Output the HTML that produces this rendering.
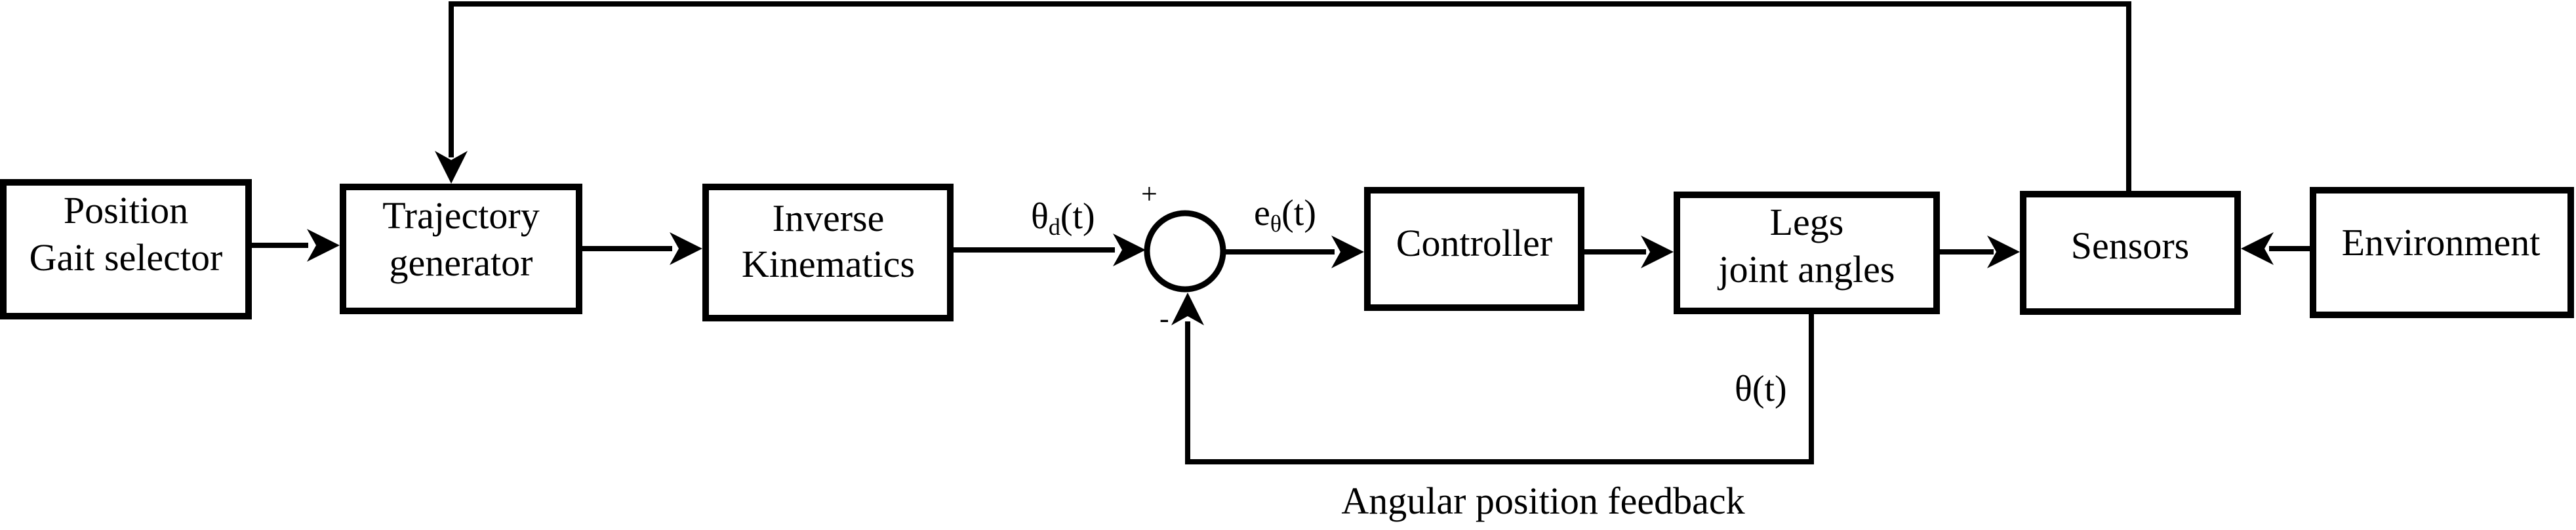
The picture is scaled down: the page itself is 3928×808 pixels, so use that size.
<!DOCTYPE html>
<html><head><meta charset="utf-8"><style>
html,body{margin:0;padding:0;background:#fff;}
svg{display:block;}
text{font-family:"Liberation Serif",serif;fill:#000;}
</style></head><body>
<svg width="3928" height="808" viewBox="0 0 3928 808" xmlns="http://www.w3.org/2000/svg">
<defs>
<path id="ah" d="M0,0 L-50,-25 L-36,0 L-50,25 Z" fill="#000"/>
</defs>
<g fill="none" stroke="#000" stroke-width="10">
<rect x="5" y="278" width="374" height="204"/>
<rect x="523" y="285" width="360" height="189"/>
<rect x="1076" y="285" width="373" height="200"/>
<rect x="2085" y="290" width="326" height="179"/>
<rect x="2557" y="297" width="396" height="177"/>
<rect x="3085" y="296" width="327" height="179"/>
<rect x="3527" y="290" width="393" height="190"/>
<circle cx="1807" cy="383" r="58" stroke-width="9"/>
</g>
<g stroke="#000" stroke-width="8" fill="none">
<path d="M384,374 H470"/>
<path d="M888,379 H1025"/>
<path d="M1454,381 H1700"/>
<path d="M1866,384 H2035"/>
<path d="M2416,384 H2510"/>
<path d="M2958,384 H3040"/>
<path d="M3522,379 H3460"/>
<path d="M2762,479 V704 H1811 V490"/>
<path d="M3246,291 V6 H688 V240"/>
</g>
<use href="#ah" transform="translate(518,374)"/>
<use href="#ah" transform="translate(1071,379)"/>
<use href="#ah" transform="translate(1747,381)"/>
<use href="#ah" transform="translate(2080,384)"/>
<use href="#ah" transform="translate(2552,384)"/>
<use href="#ah" transform="translate(3080,384)"/>
<use href="#ah" transform="translate(3417,379) rotate(180)"/>
<use href="#ah" transform="translate(688,280) rotate(90)"/>
<use href="#ah" transform="translate(1811,446) rotate(-90)"/>
<g font-size="58" text-anchor="middle">
<text x="192" y="340">Position</text>
<text x="192" y="412">Gait selector</text>
<text x="703" y="348">Trajectory</text>
<text x="703" y="420">generator</text>
<text x="1263" y="352">Inverse</text>
<text x="1263" y="422">Kinematics</text>
<text x="2248" y="390">Controller</text>
<text x="2755" y="358">Legs</text>
<text x="2755" y="430">joint angles</text>
<text x="3248" y="394">Sensors</text>
<text x="3722" y="389">Environment</text>
<text x="2353" y="783">Angular position feedback</text>
</g>
<g font-size="56">
<text x="1572" y="348">θ<tspan font-size="36" dy="10">d</tspan><tspan dy="-10">(t)</tspan></text>
<text x="1912" y="343">e<tspan font-size="36" dy="10">θ</tspan><tspan dy="-10">(t)</tspan></text>
<text x="2645" y="611">θ(t)</text>
<text x="1740" y="310" font-size="44">+</text>
<text x="1768" y="500" font-size="44">-</text>
</g>
</svg>
</body></html>
